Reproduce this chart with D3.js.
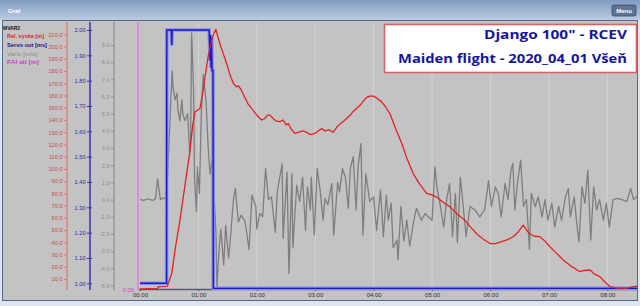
<!DOCTYPE html>
<html><head><meta charset="utf-8">
<script src="https://cdnjs.cloudflare.com/ajax/libs/d3/7.8.5/d3.min.js"></script>
<style>body{margin:0;background:#dde5ee;}svg{display:block;}</style>
</head><body><svg id="c" width="640" height="306"></svg>
<script>
// ---- data ----
const timeTicks = [0,60,120,180,240,300,360,420,480];
const timeLabels = ["00:00","01:00","02:00","03:00","04:00","05:00","06:00","07:00","08:00"];
const relTicks = d3.range(10, 211, 10);
const servoTicks = d3.range(0, 11).map(i => 1 + i/10);
const varioTicks = d3.range(-5, 10);
const legendNames = ["MVAR2","Rel. vyska [m]","Servo out [ms]","Vario [m/s]","FAI alt [m]"];
const titleLines = ["Django 100\" - RCEV","Maiden flight - 2020_04_01 Všeň"];

// Rel. vyska [m] : [seconds, metres]
const relHeight = [[0,2.0],[10,2.2],[18,2.4],[19,3.8],[28,4.0],[32.6,14.7],[36,33.7],[41,58],[46,85.5],[51,112.7],[54,135],[56.5,146.7],[59,148],[61.6,149.5],[64,160],[66.8,175],[70,192],[73.6,205],[76,211],[78,214],[80,208],[83,200],[85.6,194],[89,186],[92,178],[95.8,170],[99,167],[101,168],[104,164.5],[108,158],[111,153],[114.7,149.5],[118,146],[121,143],[125,140],[128,141],[131,144],[133.5,144],[137,141],[140,139],[143.8,138.6],[147,140],[150,136],[152.3,137],[155,133],[159,129],[163,130],[167,131],[171,130],[175,128],[179.7,129],[183,131],[186.6,133],[190,131],[194,132],[198.5,130],[202,134],[206,137],[212,141],[216,144],[219,147],[222.6,149.5],[226,152],[229,155],[232.8,158.5],[236,159.5],[239.6,159.5],[243,158],[248,155],[252,151],[256.8,145],[262,134],[268.8,121],[274,109],[280.7,96],[287,88],[294.4,80],[299,79],[304.7,77],[311,73],[318.4,69],[326,63],[333.8,58],[340,52],[345.8,47],[352,43],[359.5,39],[365,39],[371.5,40.5],[377,42],[383.4,44.6],[388,48],[393.6,54],[397,50],[400.5,47],[405,45],[410.8,44.6],[416,41],[421.1,36.4],[428,31],[434.7,25.6],[442,21],[451.9,16],[456,17],[462.2,17.4],[467,14],[472.4,12],[477,8],[482.8,3.8],[490,2.6],[499.8,2.5],[505,3.5],[511.4,4.3]];

// Servo out [ms] : [seconds, ms]
const servoOut = [[0,1.0],[27.3,1.0],[27.5,2.0],[32.2,2.0],[32.6,1.94],[33,2.0],[71,2.0],[72,1.88],[72.5,1.98],[73,1.85],[73.5,1.97],[74,1.84],[75,1.84],[75.3,0.98],[512,0.98]];

// Vario [m/s] : [seconds, m/s]
const vario = [[0,0],[4,-0.05],[8,0.05],[13,-0.05],[16,0.05],[18,1.2],[21,0.0],[24,0.1],[27,0.0],[30,3.6],[33,7.5],[34,6.5],[36,5.8],[38,6.2],[39,5.2],[41,4.6],[43,5.8],[44,5.0],[46,4.6],[49,5.0],[51,2.7],[52,3.45],[53,9.7],[55,6.5],[56,1.3],[58,-0.7],[59,1.9],[61,0.36],[63,5.0],[65,7.3],[68,5.6],[70,3.06],[72,1.5],[74,2.3],[76,0.4],[78,-1.9],[79,-5.1],[81,-3.1],[83,-1.7],[86,-3.8],[88,-1.5],[91,-3.4],[93,-2.15],[96,0.0],[98,0.65],[101,-1.3],[104,-0.9],[108,-1.3],[112,-2.9],[115,0.26],[119,-0.4],[120,-1.7],[123,-0.8],[126,-1.0],[129,1.8],[132,0.0],[135,0.16],[139,-1.9],[141,0.45],[146,2.1],[147,-2.25],[151,1.6],[153,-4.3],[156,1.5],[157,-2.8],[161,0.84],[164,-0.1],[167,1.3],[170,-1.8],[172,0.74],[175,-0.6],[176,1.3],[179,-2.06],[182,1.8],[185,0.55],[188,-1.2],[190,0.07],[193,-0.3],[197,0.94],[199,-2.06],[203,1.0],[205,0.45],[208,1.8],[211,1.3],[214,-0.5],[216,1.8],[219,2.5],[222,-0.6],[224,1.9],[227,3.26],[229,-2.06],[232,1.5],[236,-0.1],[240,0.16],[243,-1.8],[247,0.55],[250,-2.15],[253,0.26],[255,-1.2],[258,-0.2],[260,-2.8],[264,-2.35],[265,-3.5],[268,-0.4],[271,-2.4],[274,-1.2],[277,-2.7],[281,-1.3],[284,-0.5],[289,-1.2],[293,-0.8],[296,-1.0],[300,-1.2],[303,1.9],[305,0.74],[308,-0.2],[312,-1.6],[315,0.0],[318,0.94],[321,-2.15],[324,0.36],[326,-2.5],[329,1.3],[332,-0.4],[335,-2.15],[339,-0.4],[344,-0.6],[349,-1.0],[354,-0.6],[358,1.1],[361,-0.4],[365,0.74],[368,0.36],[371,-1.0],[375,0.94],[378,0.0],[381,1.7],[383,2.1],[385,-0.6],[388,1.1],[391,2.3],[394,-0.4],[397,0.0],[400,-2.9],[402,0.36],[406,-0.4],[409,0.16],[413,-1.0],[416,0.0],[419,-1.2],[423,-0.2],[426,-1.6],[430,-0.4],[433,-1.2],[437,0.16],[440,0.65],[442,-1.0],[446,0.16],[449,-1.6],[451,-2.45],[454,0.74],[457,-0.2],[460,1.7],[463,-2.35],[466,0.74],[469,-0.6],[472,0.0],[476,-1.2],[479,-0.2],[482,-1.6],[486,0.0],[490,0.07],[495,0.0],[500,-0.1],[504,0.65],[507,0.0],[512,0.26]];

// ---- drawing ----
const svg = d3.select("#c");
const defs = svg.append("defs");
const g1 = defs.append("linearGradient").attr("id","tb").attr("x1",0).attr("y1",0).attr("x2",0).attr("y2",1);
g1.append("stop").attr("offset","0%").attr("stop-color","#7f9bc2");
g1.append("stop").attr("offset","100%").attr("stop-color","#bccbe0");

// title bar
svg.append("rect").attr("x",0).attr("y",0).attr("width",640).attr("height",20).attr("fill","url(#tb)");
svg.append("text").attr("x",8).attr("y",13).text("Graf").attr("fill","#ffffff")
  .attr("font-family","Liberation Sans, Arial").attr("font-size",6).attr("font-weight","bold");
svg.append("rect").attr("x",612).attr("y",5).attr("width",24).attr("height",11).attr("rx",1.5)
  .attr("fill","#5f7392").attr("stroke","#3d4e6a").attr("stroke-width",0.8);
svg.append("text").attr("x",624).attr("y",13).attr("text-anchor","middle").text("Menu").attr("fill","#ffffff")
  .attr("font-family","Liberation Sans, Arial").attr("font-size",6).attr("font-weight","bold");

// panel
svg.append("rect").attr("x",2.5).attr("y",20.5).attr("width",635).attr("height",280)
  .attr("fill","#c3c3c3").attr("stroke","#56698a").attr("stroke-width",1);

const plotL = 138, plotR = 637.5, plotT = 22, plotB = 289;
const x = d3.scaleLinear().domain([0,480]).range([140,607.3]);
const yRel = d3.scaleLinear().domain([0,210]).range([291.3,34.3]);
const yServo = d3.scaleLinear().domain([1,2]).range([283.3,30]);
const yVario = d3.scaleLinear().domain([-5,9]).range([285.5,45]);

const font = "Liberation Sans, Arial, sans-serif";

// vertical grid lines
svg.append("g").selectAll("line").data(timeTicks.slice(1)).join("line")
  .attr("x1",d=>x(d)).attr("x2",d=>x(d)).attr("y1",plotT).attr("y2",plotB)
  .attr("stroke","#d2d2d2").attr("stroke-width",1);

// clip
defs.append("clipPath").attr("id","clip").append("rect")
  .attr("x",plotL).attr("y",plotT).attr("width",plotR-plotL).attr("height",plotB-plotT+1);

// x axis
const xAxis = d3.axisBottom(x).tickValues(timeTicks).tickFormat((d,i)=>timeLabels[i]).tickSize(2).tickSizeOuter(0);
const gx = svg.append("g").attr("transform",`translate(0,${plotB})`).call(xAxis);
gx.select(".domain").attr("d",`M${plotL},0.5H${plotR}`).attr("stroke","#5a5a6a").attr("stroke-width",1.5);
gx.selectAll(".tick line").attr("stroke","#5a5a6a");
gx.selectAll(".tick text").attr("fill","#303030").attr("font-family",font).attr("font-size",6).attr("dy","0.55em");

// helper for vertical axes
function vAxis(scale, ticks, fmt, xpos, lineCol, textCol, lineW, inner){
  const ax = d3.axisLeft(scale).tickValues(ticks).tickFormat(fmt).tickSize(3).tickPadding(1.5).tickSizeOuter(0);
  const g = svg.append("g").attr("transform",`translate(${xpos},0)`).call(ax);
  g.select(".domain").attr("d",`M0,${plotT}V${plotB+1}`).attr("stroke",lineCol).attr("stroke-width",lineW);
  g.selectAll(".tick line").attr("stroke",lineCol).attr("x2", -3).attr("x1", inner);
  g.selectAll(".tick text").attr("fill",textCol).attr("font-family",font).attr("font-size",5.6);
  return g;
}
vAxis(yRel, relTicks, d=>d.toFixed(1), 67, "#e07474", "#d04848", 1.2, 0);
vAxis(yServo, servoTicks, d=>d.toFixed(2), 90, "#3434b8", "#2a2aa8", 1.5, 2);
vAxis(yVario, varioTicks, d=>d.toFixed(1), 114, "#8e8e8e", "#8c8c8c", 1.2, 0);

// FAI alt axis (pink)
svg.append("line").attr("x1",138).attr("x2",138).attr("y1",plotT).attr("y2",plotB+1)
  .attr("stroke","#dc8ede").attr("stroke-width",2);
svg.append("text").attr("x",134).attr("y",292).attr("text-anchor","end").text("0.00")
  .attr("fill","#d040d0").attr("font-family",font).attr("font-size",5.8);

// series
const plot = svg.append("g").attr("clip-path","url(#clip)");
const lv = d3.line().x(d=>x(d[0])).y(d=>yVario(d[1]));
plot.append("path").attr("d",lv(vario)).attr("fill","none").attr("stroke","#7e7e7e").attr("stroke-width",1.3).attr("stroke-linejoin","round");
const ls = d3.line().x(d=>x(d[0])).y(d=>yServo(d[1]));
plot.append("path").attr("d",ls(servoOut)).attr("fill","none").attr("stroke","#8a8ae8").attr("stroke-width",3.6);
plot.append("path").attr("d",ls(servoOut)).attr("fill","none").attr("stroke","#1a1ad0").attr("stroke-width",1.4);
const lr = d3.line().x(d=>x(d[0])).y(d=>yRel(d[1]));
plot.append("path").attr("d",lr(relHeight)).attr("fill","none").attr("stroke","#e42020").attr("stroke-width",1.3).attr("stroke-linejoin","round");

// legend
const legCols = ["#111111","#d42a2a","#14148c","#8c8c8c","#d03cd0"];
const legW = ["bold","bold","bold","normal","bold"];
const legX = [3,7,7,7,7];
const legY = [29.5,37.5,47,55.5,64];
const legLen = [17,37,40,30,32];
svg.append("g").selectAll("text").data(legendNames).join("text")
  .attr("x",(d,i)=>legX[i]).attr("y",(d,i)=>legY[i]).text(d=>d)
  .attr("fill",(d,i)=>legCols[i]).attr("font-weight",(d,i)=>legW[i])
  .attr("font-family",font).attr("font-size",6.2)
  .attr("textLength",(d,i)=>legLen[i]).attr("lengthAdjust","spacingAndGlyphs");

// title box
svg.append("rect").attr("x",384.5).attr("y",24.5).attr("width",252).attr("height",48)
  .attr("fill","#ffffff").attr("stroke","#d46464").attr("stroke-width",1.6);
svg.append("g").selectAll("text").data(titleLines).join("text")
  .attr("x",627).attr("y",(d,i)=>[38.5,63][i]).attr("text-anchor","end").text(d=>d)
  .attr("fill","#1515a2").attr("font-family","Open Sans, Lato, sans-serif").attr("font-weight","bold")
  .attr("font-size",12.5).attr("textLength",(d,i)=>[143,229][i]).attr("lengthAdjust","spacingAndGlyphs");
</script></body></html>
